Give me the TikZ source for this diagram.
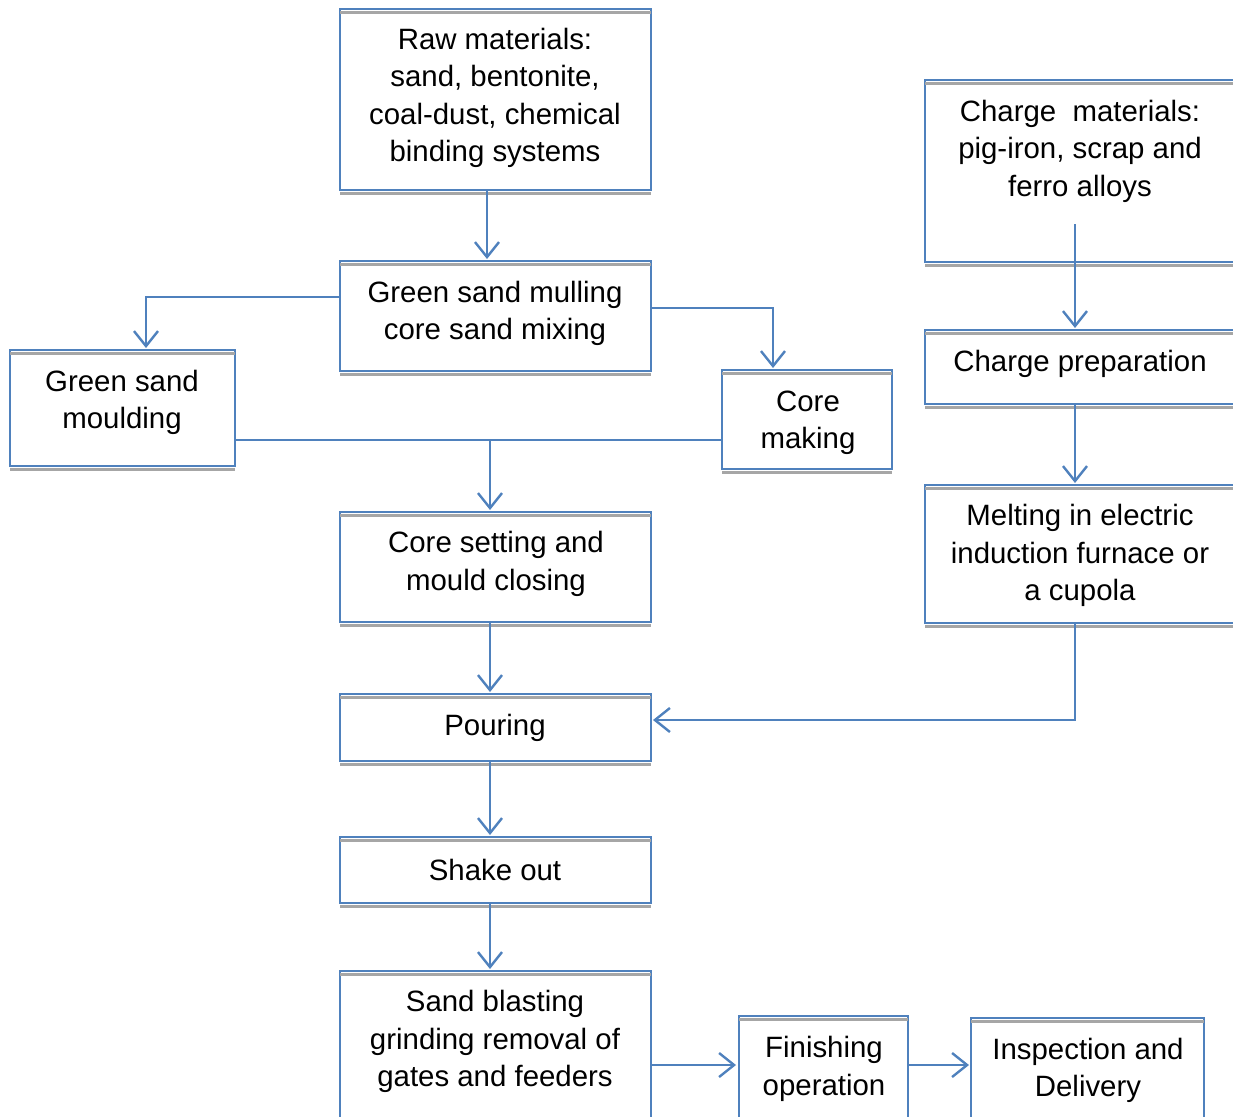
\documentclass[tikz,border=0pt]{standalone}
\usepackage{fontspec}
\setmainfont{Liberation Sans}
\usetikzlibrary{arrows.meta}
\definecolor{lblue}{HTML}{4F81BD}
\definecolor{lgray}{HTML}{A6A6A6}
\tikzset{
  boxn/.style={draw=lblue, line width=2.4pt, inner sep=0pt, outer sep=0pt},
  grayln/.style={draw=lgray, line width=2.2pt},
  txt/.style={align=center, font=\fontsize{29.4}{37.5}\selectfont, inner sep=0pt},
  conn/.style={draw=lblue, line width=2.4pt, -{Straight Barb[length=15pt,width=24pt,line width=2.4pt]}},
  plain/.style={draw=lblue, line width=2.4pt}
}
\newcommand\mybox[5]{%
  \node[boxn, minimum width={#4-#2}, minimum height={#5-#3}] (#1) at ({(#2+#4)/2},{(#3+#5)/2}) {};
  \draw[grayln] (#2,{#3+3.5}) -- (#4,{#3+3.5});
  \draw[grayln] (#2,{#5+3.5}) -- (#4,{#5+3.5});
}
\begin{document}
\begin{tikzpicture}[x=1pt,y=-1pt]
\useasboundingbox (0,0) rectangle (1233,1116);
\clip (0,0) rectangle (1233,1116);
\fill[white] (0,0) rectangle (1233,1116);

\mybox{raw}{340}{9}{651}{190}
\mybox{mull}{340}{261}{651}{371}
\mybox{gsm}{10}{350}{235}{466}
\mybox{core}{722}{370}{892}{469}
\mybox{cset}{340}{512}{651}{622}
\mybox{pour}{340}{694}{651}{761}
\mybox{shake}{340}{837}{651}{903}
\mybox{blast}{340}{971}{651}{1140}
\mybox{fin}{739}{1016}{908}{1140}
\mybox{insp}{971}{1018}{1204}{1140}
\mybox{charge}{925}{80}{1250}{262}
\mybox{prep}{925}{330}{1250}{404}
\mybox{melt}{925}{485}{1250}{623}

\node[txt] at (495,98) {Raw materials:\\sand, bentonite,\\coal-dust, chemical\\binding systems};
\node[txt] at (495,313.5) {Green sand mulling\\core sand mixing};
\node[txt] at (122,402.5) {Green sand\\moulding};
\node[txt] at (808,423) {Core\\making};
\node[txt] at (496,564) {Core setting and\\mould closing};
\node[txt] at (495,728) {Pouring};
\node[txt] at (495,870) {Shake out};
\node[txt] at (495,1041.5) {Sand blasting\\grinding removal of\\gates and feeders};
\node[txt] at (824,1069) {Finishing\\operation};
\node[txt] at (1088,1070.5) {Inspection and\\Delivery};
\node[txt] at (1080,151) {Charge\ \ materials:\\pig-iron, scrap and\\ferro alloys};
\node[txt] at (1080,364) {Charge preparation};
\node[txt] at (1080,555.5) {Melting in electric\\induction furnace or\\a cupola};

\coordinate (a) at (487,0);
\coordinate (j) at (490,440);
\coordinate (h) at (0,1065);
\coordinate (c) at (1075,224);
\coordinate (p) at (0,720);
\coordinate (m1) at (0,297);
\coordinate (m2) at (0,308);
\coordinate (g) at (146,0);
\coordinate (k) at (773,0);

\draw[conn] (a |- raw.south) -- ([yshift=2pt]a |- mull.north);
\draw[conn] (mull.west |- m1) -| ([yshift=2pt]g |- gsm.north);
\draw[conn] (mull.east |- m2) -| ([yshift=2pt]k |- core.north);
\draw[plain] (gsm.east |- j) -- (core.west |- j);
\draw[conn] (j) -- ([yshift=2pt]j |- cset.north);
\draw[conn] (j |- cset.south) -- ([yshift=2pt]j |- pour.north);
\draw[conn] (j |- pour.south) -- ([yshift=2pt]j |- shake.north);
\draw[conn] (j |- shake.south) -- ([yshift=2pt]j |- blast.north);
\draw[conn] (blast.east |- h) -- ([xshift=-3pt]fin.west |- h);
\draw[conn] (fin.east |- h) -- ([xshift=-2pt]insp.west |- h);
\draw[conn] (c) -- ([yshift=2pt]c |- prep.north);
\draw[conn] (c |- prep.south) -- ([yshift=2pt]c |- melt.north);
\draw[conn] (c |- melt.south) |- ([xshift=2pt]pour.east |- p);
\end{tikzpicture}
\end{document}
